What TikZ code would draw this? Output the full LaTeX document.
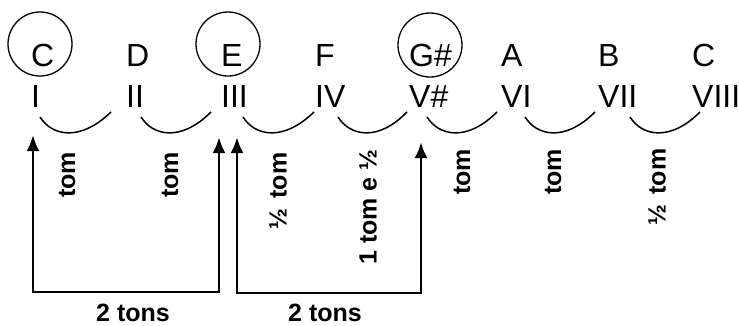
\documentclass[tikz,border=0pt]{standalone}
\usepackage{fontspec}
\setmainfont{Liberation Sans}
\usetikzlibrary{arrows.meta}

\begin{document}
\begin{tikzpicture}[x=1bp, y=-1bp,
  note/.style={anchor=base west, inner sep=0pt, font=\fontsize{32bp}{38bp}\selectfont},
  degree/.style={note},
  ring/.style={draw, circle, minimum size=64bp, inner sep=0pt, line width=1.3bp},
  interval/.style={rotate=90, inner sep=0pt, font=\fontsize{25bp}{30bp}\selectfont\bfseries},
  span/.style={anchor=base, inner sep=0pt, font=\fontsize{25bp}{30bp}\selectfont\bfseries},
  slur/.style={line width=1.5bp},
  arr/.style={{Latex[length=16bp,width=13bp]}-{Latex[length=16bp,width=13bp]}, line width=2.8bp}
]
\useasboundingbox (0,0) rectangle (739,325);

% notes
\node[note] (nC) at (31,66) {C};
\node[note] (nD) at (126,66) {D};
\node[note] (nE) at (221,66) {E};
\node[note] (nF) at (315,66) {F};
\node[note] (nG) at (409,66) {G\#};
\node[note] (nA) at (501,66) {A};
\node[note] (nB) at (598,66) {B};
\node[note] (nCC) at (692,66) {C};

% circled notes
\node[ring] (rC) at (40,44) {};
\node[ring] (rE) at (228,44) {};
\node[ring] (rG) at (430,45) {};

% degrees
\node[degree] (dI) at (31,107) {I};
\node[degree] (dII) at (126,107) {II};
\node[degree] (dIII) at (221,107) {III};
\node[degree] (dIV) at (315,107) {IV};
\node[degree] (dV) at (409,107) {V\#};
\node[degree] (dVI) at (501,107) {VI};
\node[degree] (dVII) at (598,107) {VII};
\node[degree] (dVIII) at (692,107) {VIII};

% slurs between degrees
\foreach \a/\b in {40/111, 141/211, 243/314, 338/407, 427/497, 525/595, 630/700}
  \draw[slur] (\a,117) .. controls (\a+12,136) and (\a+40,142) .. (\b,112);

% intervals
\node[interval] (i1) at (67,175) {tom};
\node[interval] (i2) at (170,175) {tom};
\node[interval] (i3) at (278,191) {½\hspace{0.4em}tom};
\node[interval] (i4) at (368,207) {1 tom e ½};
\node[interval] (i5) at (462,172) {tom};
\node[interval] (i6) at (553,172) {tom};
\node[interval] (i7) at (657,187) {½\hspace{0.4em}tom};

% two whole tones
\coordinate (a1) at (33,135);
\coordinate (b1) at (219,137);
\coordinate (a2) at (237,137);
\coordinate (b2) at (421,142);
\draw[arr] (a1) -- ++(0,157) -| (b1);
\draw[arr] (a2) -- ++(0,156) -| (b2);
\node[span] (s1) at (133,321) {2 tons};
\node[span] (s2) at (325,321) {2 tons};
\end{tikzpicture}
\end{document}
